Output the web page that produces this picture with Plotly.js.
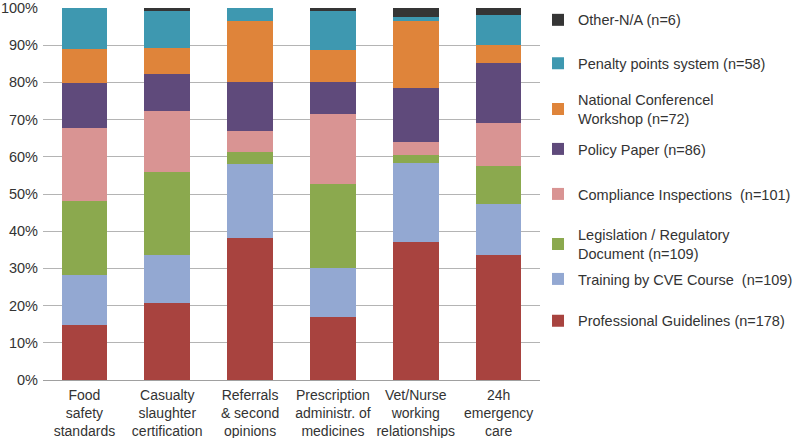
<!DOCTYPE html>
<html>
<head>
<meta charset="utf-8">
<script src="https://cdn.plot.ly/plotly-3.0.1.min.js"></script>
<style>html,body{margin:0;padding:0;background:#fff;}#chart{width:794px;height:438px;}</style>
</head>
<body>
<div id="chart"></div>
<script>
var categories = [
  "Food<br>safety<br>standards",
  "Casualty<br>slaughter<br>certification",
  "Referrals<br>& second<br>opinions",
  "Prescription<br>administr. of<br>medicines",
  "Vet/Nurse<br>working<br>relationships",
  "24h<br>emergency<br>care"
];
var professionalGuidelines = [14.8, 20.8, 38.3, 17.0, 37.0, 33.6];
var trainingCVE            = [13.3, 12.9, 19.8, 13.1, 21.3, 13.8];
var legislation            = [19.9, 22.3, 3.3, 22.5, 2.3, 10.0];
var compliance             = [19.8, 16.3, 5.5, 19.0, 3.4, 11.7];
var policyPaper            = [12.1, 10.0, 13.2, 8.5, 14.6, 16.0];
var nationalConference     = [9.1, 6.9, 16.5, 8.7, 17.9, 4.9];
var penaltyPoints          = [11.0, 10.1, 3.4, 10.5, 1.2, 8.0];
var otherNA                = [0.0, 0.7, 0.0, 0.7, 2.3, 2.0];

var seriesNames = [
  "Professional Guidelines (n=178)",
  "Training by CVE Course  (n=109)",
  "Legislation / Regulatory<br>Document (n=109)",
  "Compliance Inspections  (n=101)",
  "Policy Paper (n=86)",
  "National Conferencel<br>Workshop (n=72)",
  "Penalty points system (n=58)",
  "Other-N/A (n=6)"
];
var seriesValues = [professionalGuidelines, trainingCVE, legislation, compliance, policyPaper, nationalConference, penaltyPoints, otherNA];
var seriesColors = ["#A8433F", "#93A8D2", "#8BA94E", "#D99493", "#5F4A7B", "#DF843A", "#3E98B0", "#353535"];
var legendY = [0.159, 0.2715, 0.365, 0.5, 0.621, 0.728, 0.851, 0.968];

var font = "Liberation Sans, Arial, Helvetica, sans-serif";
var traces = [];
var layout = {
  width: 794, height: 438,
  margin: {l: 43, r: 254, t: 8, b: 58, autoexpand: false},
  barmode: "stack",
  bargap: 0.45,
  paper_bgcolor: "#ffffff",
  plot_bgcolor: "#ffffff",
  font: {family: font, size: 14.5, color: "#333333"},
  xaxis: {
    tickfont: {family: font, size: 14, color: "#333333"},
    showgrid: false, zeroline: false, showline: false, ticks: "",
    tickangle: 0, automargin: false,
    ticklabelstandoff: 5
  },
  yaxis: {
    range: [0, 100],
    tickvals: [0,10,20,30,40,50,60,70,80,90,100],
    ticktext: ["0%","10%","20%","30%","40%","50%","60%","70%","80%","90%","100%"],
    tickfont: {family: font, size: 14.5, color: "#333333"},
    showgrid: true, gridcolor: "#B4B4B4", gridwidth: 1,
    zeroline: true, zerolinecolor: "#A0A0A0", zerolinewidth: 1,
    showline: false, ticks: "", automargin: false,
    ticklabelstandoff: 4
  },
  showlegend: true
};

for (var i = 0; i < seriesNames.length; i++) {
  var lg = i === 0 ? "legend" : "legend" + (i + 1);
  traces.push({
    type: "bar",
    x: categories,
    y: seriesValues[i],
    name: seriesNames[i],
    marker: {color: seriesColors[i], line: {width: 0}},
    legend: lg,
    showlegend: true,
    hoverinfo: "name+y"
  });
  layout[lg] = {
    x: 0.996, xanchor: "left",
    y: legendY[i], yanchor: "middle",
    bgcolor: "rgba(0,0,0,0)",
    borderwidth: 0,
    font: {family: font, size: 14.5, color: "#333333"}
  };
}

Plotly.newPlot("chart", traces, layout, {displayModeBar: false, staticPlot: true});
</script>
</body>
</html>
